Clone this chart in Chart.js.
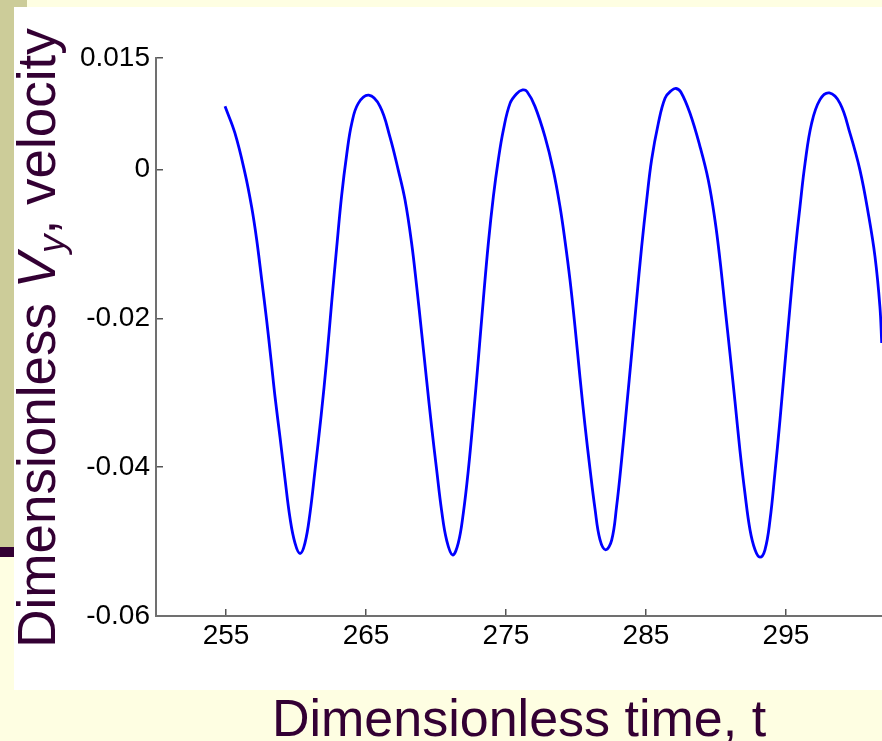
<!DOCTYPE html>
<html>
<head>
<meta charset="utf-8">
<script src="https://cdn.jsdelivr.net/npm/chart.js@4/dist/chart.umd.min.js"></script>
<style>
  html, body { margin: 0; padding: 0; background: #FEFEE2; overflow: hidden; }
  #wrap { position: relative; width: 882px; height: 741px; }
  canvas { display: block; }
</style>
</head>
<body>
<div id="wrap"><canvas id="c" width="882" height="741"></canvas></div>
<script>
// ---- data ----
const timeValues = [254.93, 255.64, 256.36, 256.83, 257.19, 257.55, 257.9, 258.22, 258.5, 258.86, 259.21, 259.57, 259.93, 260.29, 260.64, 261.0, 261.36, 261.8, 262.19, 262.55, 262.91, 263.26, 263.62, 263.98, 264.45, 265.2,
  266.0, 266.71, 267.31, 267.79, 268.26, 268.62, 268.98, 269.33, 269.69, 270.05, 270.4, 270.76, 271.19, 271.59, 271.95, 272.31, 272.67, 273.02, 273.38, 273.74, 274.1, 274.45, 274.81, 275.29, 275.76, 276.19, 276.5,
  277.07, 277.79, 278.38, 278.86, 279.21, 279.57, 279.93, 280.29, 280.64, 281.0, 281.36, 281.71, 282.12, 282.55, 282.9, 283.26, 283.62, 283.98, 284.33, 284.69, 285.05, 285.4, 285.88, 286.36, 286.8, 287.15, 287.5,
  288.14, 288.86, 289.45, 289.93, 290.29, 290.64, 291.0, 291.36, 291.71, 292.07, 292.43, 292.79, 293.14, 293.5, 293.86, 294.21, 294.57, 294.93, 295.29, 295.64, 296.0, 296.36, 296.83, 297.43, 298.1,
  298.86, 299.57, 300.29, 300.88, 301.36, 301.71, 301.84];
const velocityValues = [0.0085, 0.0049, -0.0005, -0.0050, -0.0094, -0.0148, -0.0202, -0.0256, -0.0305, -0.0360, -0.0415, -0.0468, -0.0502, -0.0516, -0.0502, -0.0462, -0.0404, -0.0330, -0.0256, -0.0178, -0.0104, -0.0035, 0.0020, 0.0062, 0.0089, 0.0100,
  0.0085, 0.0044, -0.0001, -0.0041, -0.0099, -0.0157, -0.0220, -0.0283, -0.0346, -0.0404, -0.0458, -0.0498, -0.0518, -0.0502, -0.0462, -0.0404, -0.0332, -0.0256, -0.0175, -0.0099, -0.0036, 0.0013, 0.0053, 0.0089, 0.0102, 0.0107, 0.0105,
  0.0085, 0.0044, -0.0001, -0.0050, -0.0095, -0.0148, -0.0211, -0.0280, -0.0343, -0.0402, -0.0456, -0.0497, -0.0511, -0.0498, -0.0453, -0.0390, -0.0319, -0.0247, -0.0175, -0.0104, -0.0041, 0.0013, 0.0062, 0.0096, 0.0106, 0.0109, 0.0104,
  0.0076, 0.0031, -0.0014, -0.0068, -0.0122, -0.0184, -0.0247, -0.0312, -0.0377, -0.0435, -0.0484, -0.0511, -0.0521, -0.0511, -0.0471, -0.0408, -0.0337, -0.0260, -0.0184, -0.0113, -0.0050, 0.0008, 0.0062, 0.0094, 0.0103,
  0.0089, 0.0049, -0.0001, -0.0059, -0.0117, -0.0184, -0.0233];
const xTickValues = [255, 265, 275, 285, 295];
const xTickLabels = ['255', '265', '275', '285', '295'];
const yTickValues = [0.015, 0, -0.02, -0.04, -0.06];
const yTickLabels = ['0.015', '0', '-0.02', '-0.04', '-0.06'];
const xTitle = 'Dimensionless time, t';
const yTitleParts = ['Dimensionless ', 'V', 'y', ', velocity'];

const points = timeValues.map((t, i) => ({ x: t, y: velocityValues[i] }));

const TITLE_COLOR = '#330033';
const FONT = "'Liberation Sans', Arial, Helvetica, sans-serif";

const backdrop = {
  id: 'backdrop',
  beforeDraw(chart) {
    const ctx = chart.ctx;
    ctx.save();
    ctx.fillStyle = '#FEFEE2';
    ctx.fillRect(0, 0, 882, 741);
    ctx.fillStyle = '#CCCC99';
    ctx.fillRect(0, 0, 27, 7);
    ctx.fillRect(0, 7, 14, 540);
    ctx.fillStyle = TITLE_COLOR;
    ctx.fillRect(0, 547, 14, 10);
    ctx.fillStyle = '#FFFFFF';
    ctx.fillRect(14, 7, 868, 683);
    ctx.restore();
  }
};

const yTitlePlugin = {
  id: 'yTitle',
  afterDraw(chart) {
    const ctx = chart.ctx;
    ctx.save();
    ctx.fillStyle = TITLE_COLOR;
    ctx.textBaseline = 'alphabetic';
    ctx.textAlign = 'left';
    const big = '53px ' + FONT, bigIt = 'italic 53px ' + FONT, subIt = 'italic 37px ' + FONT;
    const fonts = [big, bigIt, subIt, big];
    const offs = [0, 0, 9, 0];
    const widths = yTitleParts.map((s, i) => { ctx.font = fonts[i]; return ctx.measureText(s).width; });
    const total = widths.reduce((a, b) => a + b, 0);
    ctx.translate(55, 338);
    ctx.rotate(-Math.PI / 2);
    let x = -total / 2;
    yTitleParts.forEach((s, i) => {
      ctx.font = fonts[i];
      ctx.fillText(s, x, offs[i]);
      x += widths[i];
    });
    ctx.restore();
  }
};

new Chart(document.getElementById('c'), {
  type: 'line',
  data: {
    datasets: [{
      data: points,
      borderColor: '#0000FF',
      borderWidth: 2.8,
      pointRadius: 0,
      fill: false,
      tension: 0.4
    }]
  },
  options: {
    responsive: false,
    animation: false,
    devicePixelRatio: 1,
    layout: { padding: { top: 58, right: 0, bottom: 0, left: 0 } },
    plugins: { legend: { display: false }, tooltip: { enabled: false } },
    scales: {
      x: {
        type: 'linear',
        min: 250,
        max: 301.86,
        afterBuildTicks(scale) { scale.ticks = xTickValues.map(v => ({ value: v })); },
        afterFit(scale) { scale.height = 125; },
        ticks: {
          autoSkip: false,
          maxRotation: 0,
          padding: 10,
          color: '#000000',
          font: { family: FONT, size: 28 },
          callback(value) { const i = xTickValues.indexOf(value); return i >= 0 ? xTickLabels[i] : ''; }
        },
        grid: { drawOnChartArea: false, drawTicks: true, tickLength: -7, color: '#555555', lineWidth: 1.5 },
        border: { display: true, color: '#707070', width: 2 },
        title: {
          display: true,
          text: xTitle,
          color: TITLE_COLOR,
          font: { family: FONT, size: 52, lineHeight: 0.9 },
          padding: { top: 0, bottom: -4 }
        }
      },
      y: {
        type: 'linear',
        min: -0.06,
        max: 0.015,
        afterBuildTicks(scale) { scale.ticks = yTickValues.map(v => ({ value: v })); },
        afterFit(scale) { scale.width = 156; },
        ticks: {
          autoSkip: false,
          padding: 13,
          color: '#000000',
          font: { family: FONT, size: 28 },
          callback(value) { const i = yTickValues.indexOf(value); return i >= 0 ? yTickLabels[i] : ''; }
        },
        grid: { drawOnChartArea: false, drawTicks: true, tickLength: -7, color: '#555555', lineWidth: 1.5 },
        border: { display: true, color: '#707070', width: 2 }
      }
    }
  },
  plugins: [backdrop, yTitlePlugin]
});
</script>
</body>
</html>
